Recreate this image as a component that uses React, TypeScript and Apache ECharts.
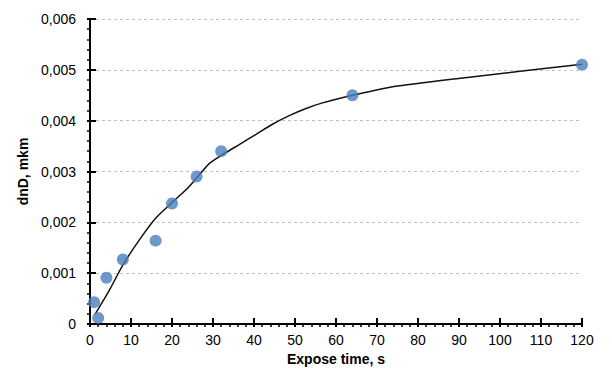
import React, { useEffect, useRef } from "react";
import * as echarts from "echarts";

const exposeTimes = [1, 2, 4, 8, 16, 20, 26, 32, 64, 120];
const dnD = [0.00043, 0.00012, 0.00091, 0.00127, 0.00164, 0.00237, 0.0029, 0.0034, 0.0045, 0.0051];

const trendTimes = [1.3, 4.7, 8, 12, 16, 20, 23.4, 26, 29, 31.5, 36.4, 40.5, 44.5, 48.6, 52.7, 56.7, 64, 68, 75, 92, 120];
const trendValues = [0.0002, 0.00066, 0.00116, 0.00165, 0.00208, 0.00239, 0.00264, 0.00287, 0.00315, 0.00329, 0.00353, 0.00373, 0.00393, 0.0041, 0.00424, 0.00435, 0.0045, 0.00457, 0.00468, 0.00485, 0.00511];

const xTitle = "Expose time, s";
const yTitle = "dnD, mkm";

const FONT = "'Liberation Sans', Arial, sans-serif";

export default function App() {
  const ref = useRef<HTMLDivElement>(null);
  useEffect(() => {
    if (!ref.current) return;
    const chart = echarts.init(ref.current, undefined, { renderer: "svg" });
    const yFmt = (v: number) => (v === 0 ? "0" : v.toFixed(3).replace(".", ","));
    const xBase = { type: "value", min: 0, max: 120, interval: 10, position: "bottom" };
    const yBase = { type: "value", min: 0, max: 0.006, interval: 0.001, position: "left" };
    chart.setOption({
      animation: false,
      backgroundColor: "#ffffff",
      grid: { left: 90, right: 30, top: 19, bottom: 65, containLabel: false },
      xAxis: [
        {
          ...xBase,
          name: xTitle,
          nameLocation: "middle",
          nameGap: 25,
          nameTextStyle: { fontFamily: FONT, fontSize: 14, fontWeight: "bold", color: "#000" },
          axisLine: { show: true, onZero: false, lineStyle: { color: "#000", width: 2 } },
          axisTick: { show: true, inside: false, length: 3, lineStyle: { color: "#000", width: 2 } },
          minorTick: { show: true, splitNumber: 5, length: 3, lineStyle: { color: "#000", width: 1.5 } },
          axisLabel: { fontFamily: FONT, fontSize: 14, color: "#000", margin: 9 },
          splitLine: { show: false },
        },
        {
          ...xBase,
          axisLine: { show: false, onZero: false },
          axisTick: { show: true, inside: true, length: 6, lineStyle: { color: "#000", width: 2 } },
          axisLabel: { show: false },
          splitLine: { show: false },
        },
      ],
      yAxis: [
        {
          ...yBase,
          name: yTitle,
          nameLocation: "middle",
          nameGap: 52,
          nameTextStyle: { fontFamily: FONT, fontSize: 14, fontWeight: "bold", color: "#000" },
          axisLine: { show: true, onZero: false, lineStyle: { color: "#000", width: 2 } },
          axisTick: { show: true, inside: false, length: 3, lineStyle: { color: "#000", width: 2 } },
          minorTick: { show: true, splitNumber: 5, length: 3, lineStyle: { color: "#000", width: 1.5 } },
          axisLabel: { fontFamily: FONT, fontSize: 14, color: "#000", margin: 14, formatter: yFmt },
          splitLine: { show: true, lineStyle: { color: "#c0c0c0", width: 1, type: [3, 3] } },
        },
        {
          ...yBase,
          axisLine: { show: false, onZero: false },
          axisTick: { show: true, inside: true, length: 6, lineStyle: { color: "#000", width: 2 } },
          axisLabel: { show: false },
          splitLine: { show: false },
        },
      ],
      series: [
        {
          type: "line",
          xAxisIndex: 0,
          yAxisIndex: 0,
          data: trendTimes.map((t, i) => [t, trendValues[i]]),
          smooth: 0.25,
          showSymbol: false,
          symbol: "none",
          lineStyle: { color: "#111", width: 1.5 },
          z: 2,
        },
        {
          type: "scatter",
          xAxisIndex: 0,
          yAxisIndex: 0,
          data: exposeTimes.map((t, i) => [t, dnD[i]]),
          symbol: "circle",
          symbolSize: 12,
          itemStyle: { color: "#4a7ebb" },
          z: 3,
        },
      ],
    });
    return () => chart.dispose();
  }, []);
  return (
    <div
      ref={ref}
      style={{ position: "fixed", left: 0, top: 0, width: 612, height: 389, background: "#fff" }}
    />
  );
}
